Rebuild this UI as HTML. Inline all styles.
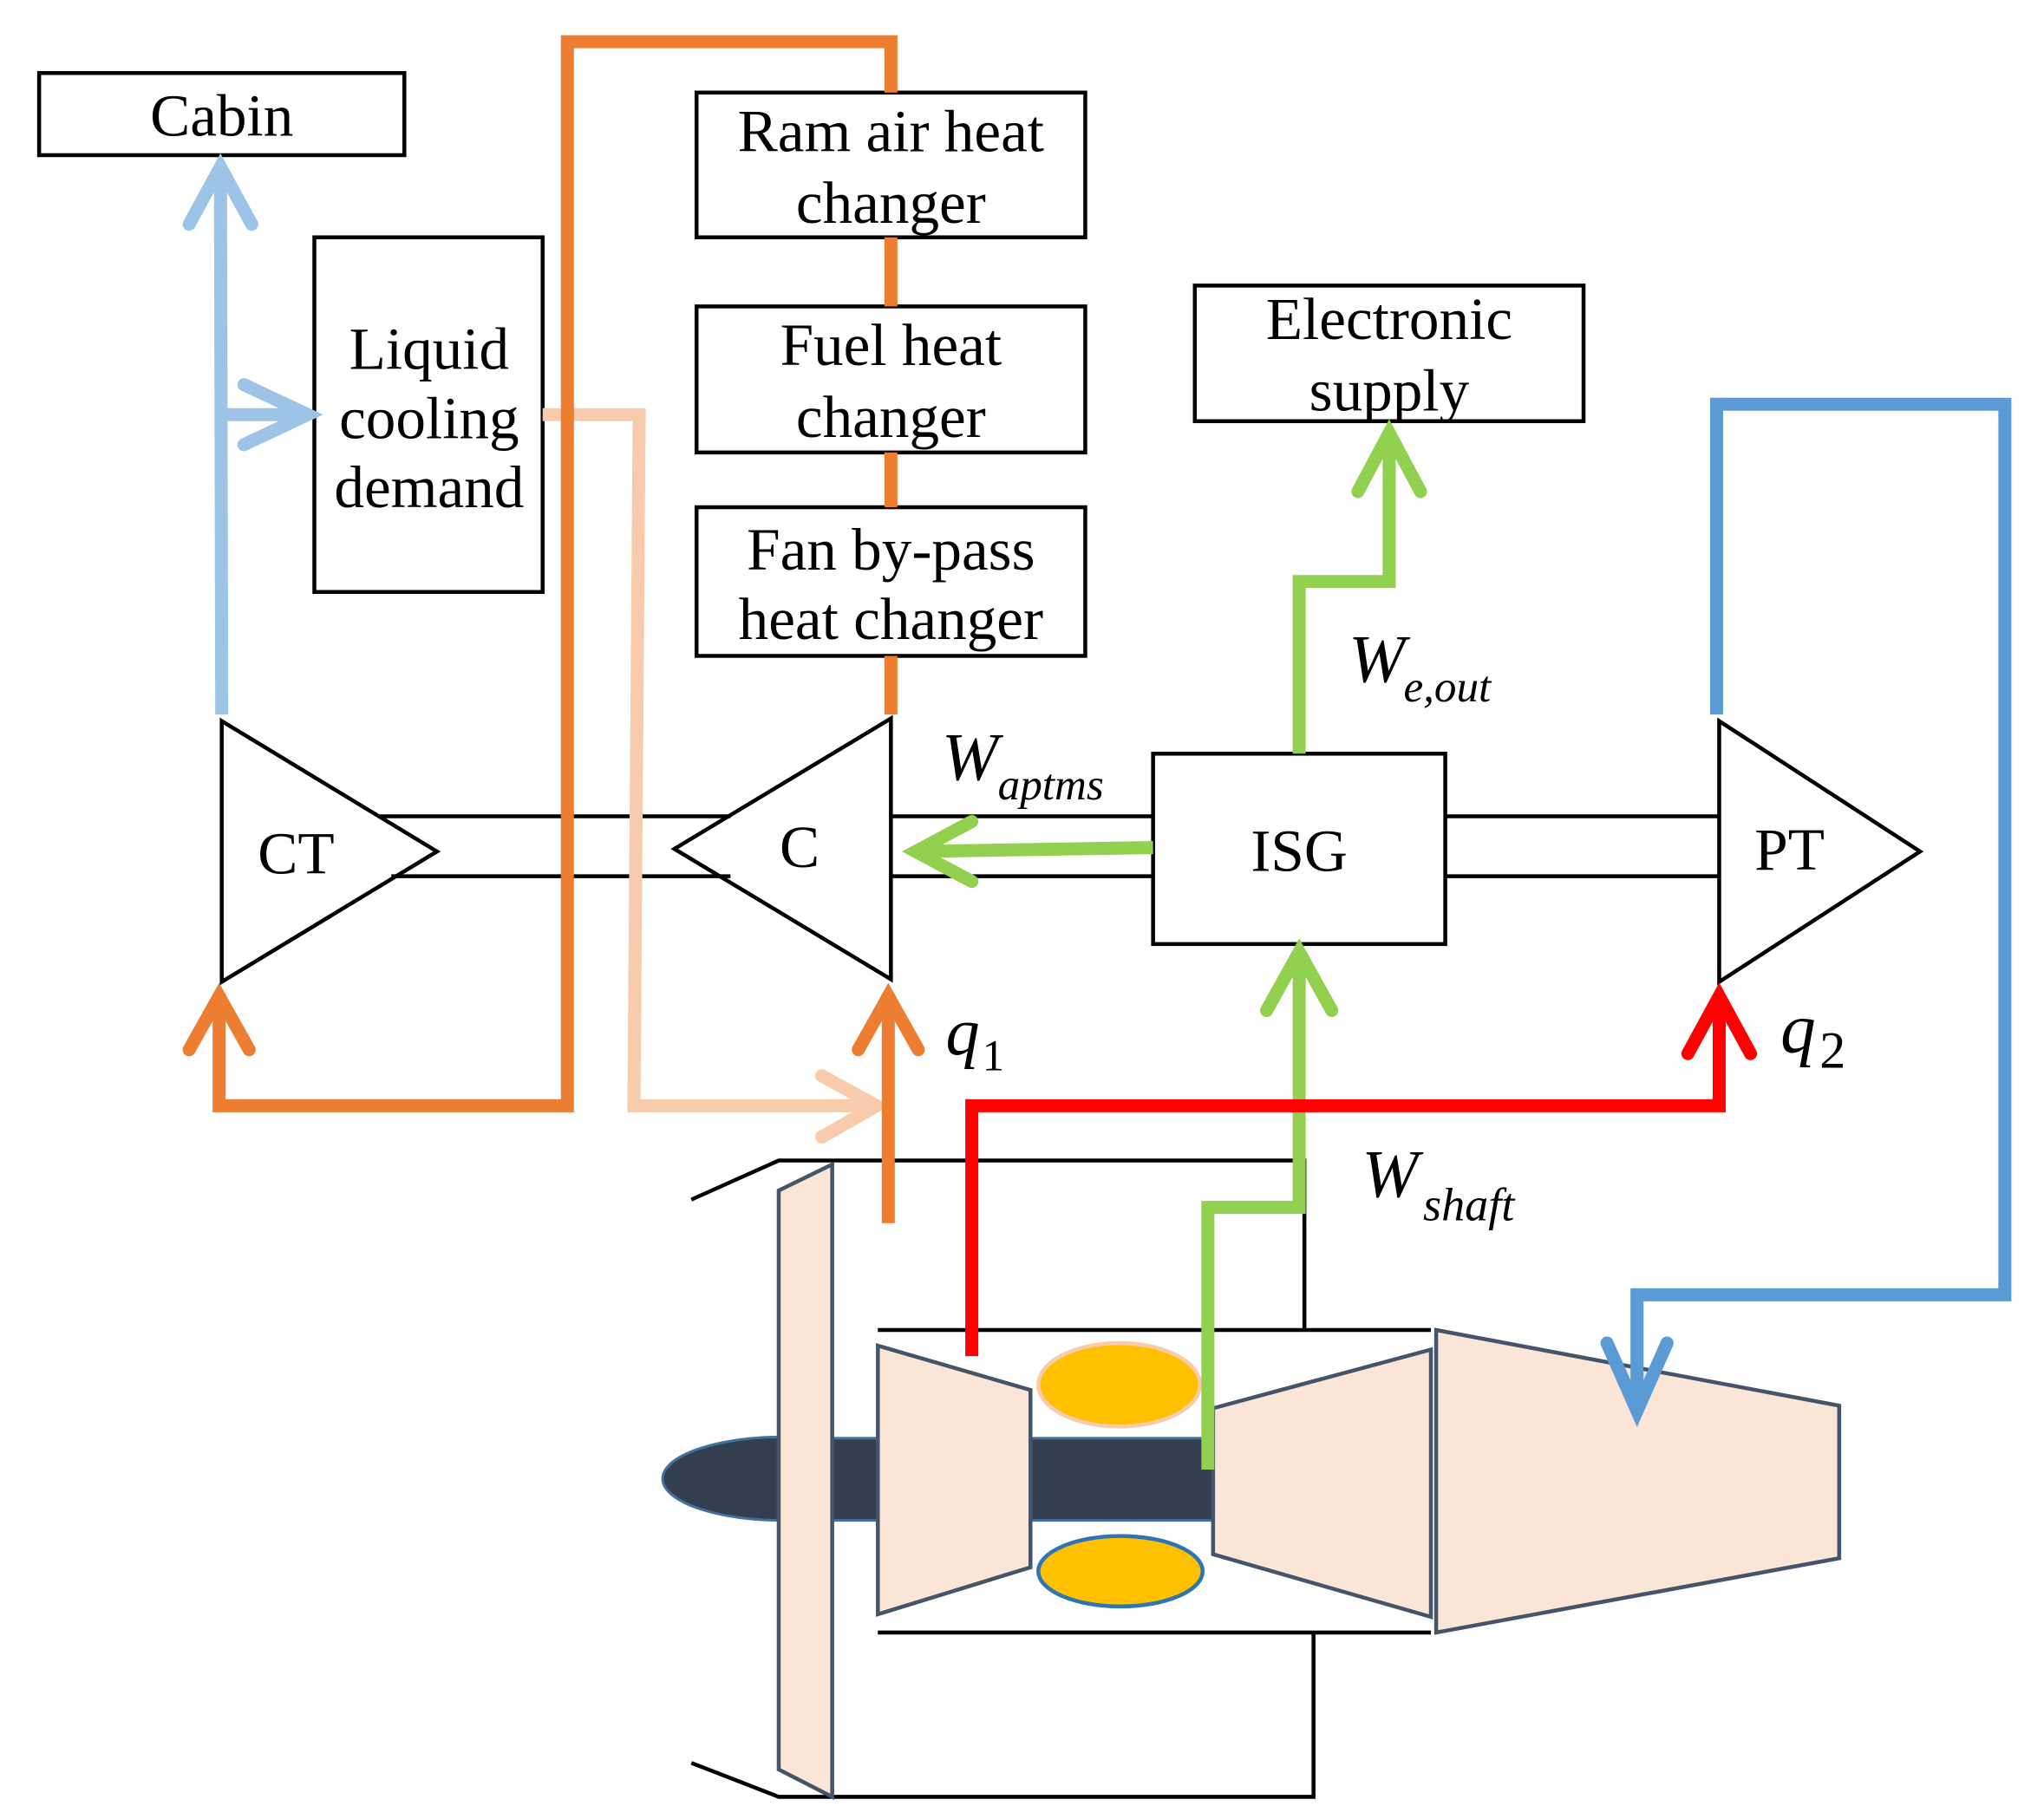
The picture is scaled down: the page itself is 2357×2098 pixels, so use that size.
<!DOCTYPE html>
<html><head><meta charset="utf-8"><style>
html,body{margin:0;padding:0;background:#fff;}
svg{display:block;}
text{font-family:"Liberation Serif",serif;fill:#000;}
</style></head><body>
<svg width="2357" height="2098" viewBox="0 0 1567 1395" preserveAspectRatio="none" xmlns="http://www.w3.org/2000/svg">
<g fill="none" stroke-linecap="butt">
<g stroke="#000" stroke-width="3">
<polyline points="530,920 597,890 1000,890 1000,1020"/>
<polyline points="530,1352 597,1378 1007,1378 1007,1252"/>
<line x1="673" y1="1020" x2="1097" y2="1020"/>
<line x1="673" y1="1252" x2="1097" y2="1252"/>
</g>
<ellipse cx="600" cy="1134" rx="92" ry="32" fill="#333f50" stroke="#41719c" stroke-width="2"/>
<rect x="600" y="1103" width="332" height="63" fill="#333f50" stroke="#41719c" stroke-width="2"/>
<polygon points="597,913 638,893 638,1378 597,1357" fill="#fbe5d6" stroke="#44546a" stroke-width="3"/>
<polygon points="673,1032 790,1066 790,1202 673,1238" fill="#fbe5d6" stroke="#44546a" stroke-width="3"/>
<ellipse cx="858" cy="1062" rx="62" ry="32" fill="#ffc000" stroke="#f8cbad" stroke-width="3"/>
<ellipse cx="859" cy="1205" rx="63" ry="27" fill="#ffc000" stroke="#2e75b6" stroke-width="3"/>
<polygon points="930,1080 1097,1035 1097,1240 930,1192" fill="#fbe5d6" stroke="#44546a" stroke-width="3"/>
<polygon points="1101,1020 1410,1078 1410,1195 1101,1252" fill="#fbe5d6" stroke="#44546a" stroke-width="3"/>

<g stroke="#000" stroke-width="3" fill="#fff">
<rect x="30" y="56" width="280" height="63"/>
<rect x="241" y="182" width="175" height="272"/>
<rect x="534" y="71" width="298" height="111"/>
<rect x="534" y="235" width="298" height="112"/>
<rect x="534" y="389" width="298" height="114"/>
<rect x="916" y="219" width="298" height="104"/>
</g>
<g stroke="#000" stroke-width="3">
<line x1="290" y1="626" x2="560" y2="626"/>
<line x1="300" y1="672" x2="560" y2="672"/>
<line x1="683" y1="626" x2="884" y2="626"/>
<line x1="683" y1="672" x2="884" y2="672"/>
<line x1="1108" y1="626" x2="1318" y2="626"/>
<line x1="1108" y1="672" x2="1318" y2="672"/>
</g>
<g stroke="#000" stroke-width="3" fill="none">
<polygon points="170,553 170,753 335,653"/>
<polygon points="683,551 683,751 517,651"/>
<polygon points="1318,553 1318,753 1472,653"/>
<rect x="884" y="578" width="224" height="146" fill="#fff"/>
</g>

<g stroke="#f8cbad" stroke-width="10" stroke-linecap="round" stroke-linejoin="miter">
<polyline points="416,318 490,318 486,848 672,848" stroke-linecap="butt"/>
<polyline points="630,825 672,848 630,872"/>
</g>
<g stroke="#ed7d31" stroke-width="10" stroke-linejoin="miter">
<polyline points="683,71 683,32 435,32 435,848 168,848 168,762"/>
<line x1="683" y1="182" x2="683" y2="235"/>
<line x1="683" y1="347" x2="683" y2="389"/>
<line x1="683" y1="503" x2="683" y2="548"/>
<line x1="681" y1="938" x2="681" y2="762"/>
<polyline points="145,805 168,764 191,805" stroke-linecap="round"/>
<polyline points="658,805 681,764 704,805" stroke-linecap="round"/>
</g>
<g stroke="#9dc3e6" stroke-width="10" stroke-linejoin="miter">
<line x1="170" y1="548" x2="169" y2="128"/>
<line x1="170" y1="318" x2="236" y2="318"/>
<polyline points="145,172 169,128 193,172" stroke-linecap="round"/>
<polyline points="187,295 236,318 187,341" stroke-linecap="round"/>
</g>
<g stroke="#92d050" stroke-width="10" stroke-linejoin="miter">
<line x1="884" y1="650" x2="702" y2="653"/>
<polyline points="745,630 702,653 745,676" stroke-linecap="round"/>
<polyline points="996,578 996,446 1065,446 1065,332"/>
<polyline points="1041,377 1065,332 1089,377" stroke-linecap="round"/>
<polyline points="996,730 996,926 926,926 926,1127"/>
<polyline points="971,775 996,730 1021,775" stroke-linecap="round"/>
</g>
<g stroke="#ff0000" stroke-width="10" stroke-linejoin="miter">
<polyline points="745,1040 745,848 1318,848 1318,764"/>
<polyline points="1294,808 1318,764 1342,808" stroke-linecap="round"/>
</g>
<g stroke="#5b9bd5" stroke-width="10" stroke-linejoin="miter">
<polyline points="1316,548 1316,310 1537,310 1537,993 1255,993 1255,1082"/>
<polyline points="1232,1030 1255,1082 1278,1030" stroke-linecap="round"/>
</g>
</g>

<g font-size="46" text-anchor="middle">
<text x="170" y="104">Cabin</text>
<text x="329" y="283">Liquid</text>
<text x="329" y="336">cooling</text>
<text x="329" y="389">demand</text>
<text x="683" y="116">Ram air heat</text>
<text x="683" y="171">changer</text>
<text x="683" y="280">Fuel heat</text>
<text x="683" y="335">changer</text>
<text x="683" y="437">Fan by-pass</text>
<text x="683" y="490">heat changer</text>
<text x="1065" y="260">Electronic</text>
<text x="1065" y="315">supply</text>
<text x="227" y="670">CT</text>
<text x="613" y="665">C</text>
<text x="996" y="668">ISG</text>
<text x="1372" y="667">PT</text>
</g>
<g font-style="italic">
<text x="722" y="598" font-size="52">W</text><text x="765" y="613" font-size="34">aptms</text>
<text x="1034" y="523" font-size="52">W</text><text x="1076" y="538" font-size="34">e,out</text>
<text x="725" y="809" font-size="52">q</text><text x="753" y="821" font-size="34" font-style="normal">1</text>
<text x="1365" y="807" font-size="54">q</text><text x="1395" y="819" font-size="40" font-style="normal">2</text>
<text x="1044" y="918" font-size="52">W</text><text x="1091" y="936" font-size="36">shaft</text>
</g>
</svg>
</body></html>
